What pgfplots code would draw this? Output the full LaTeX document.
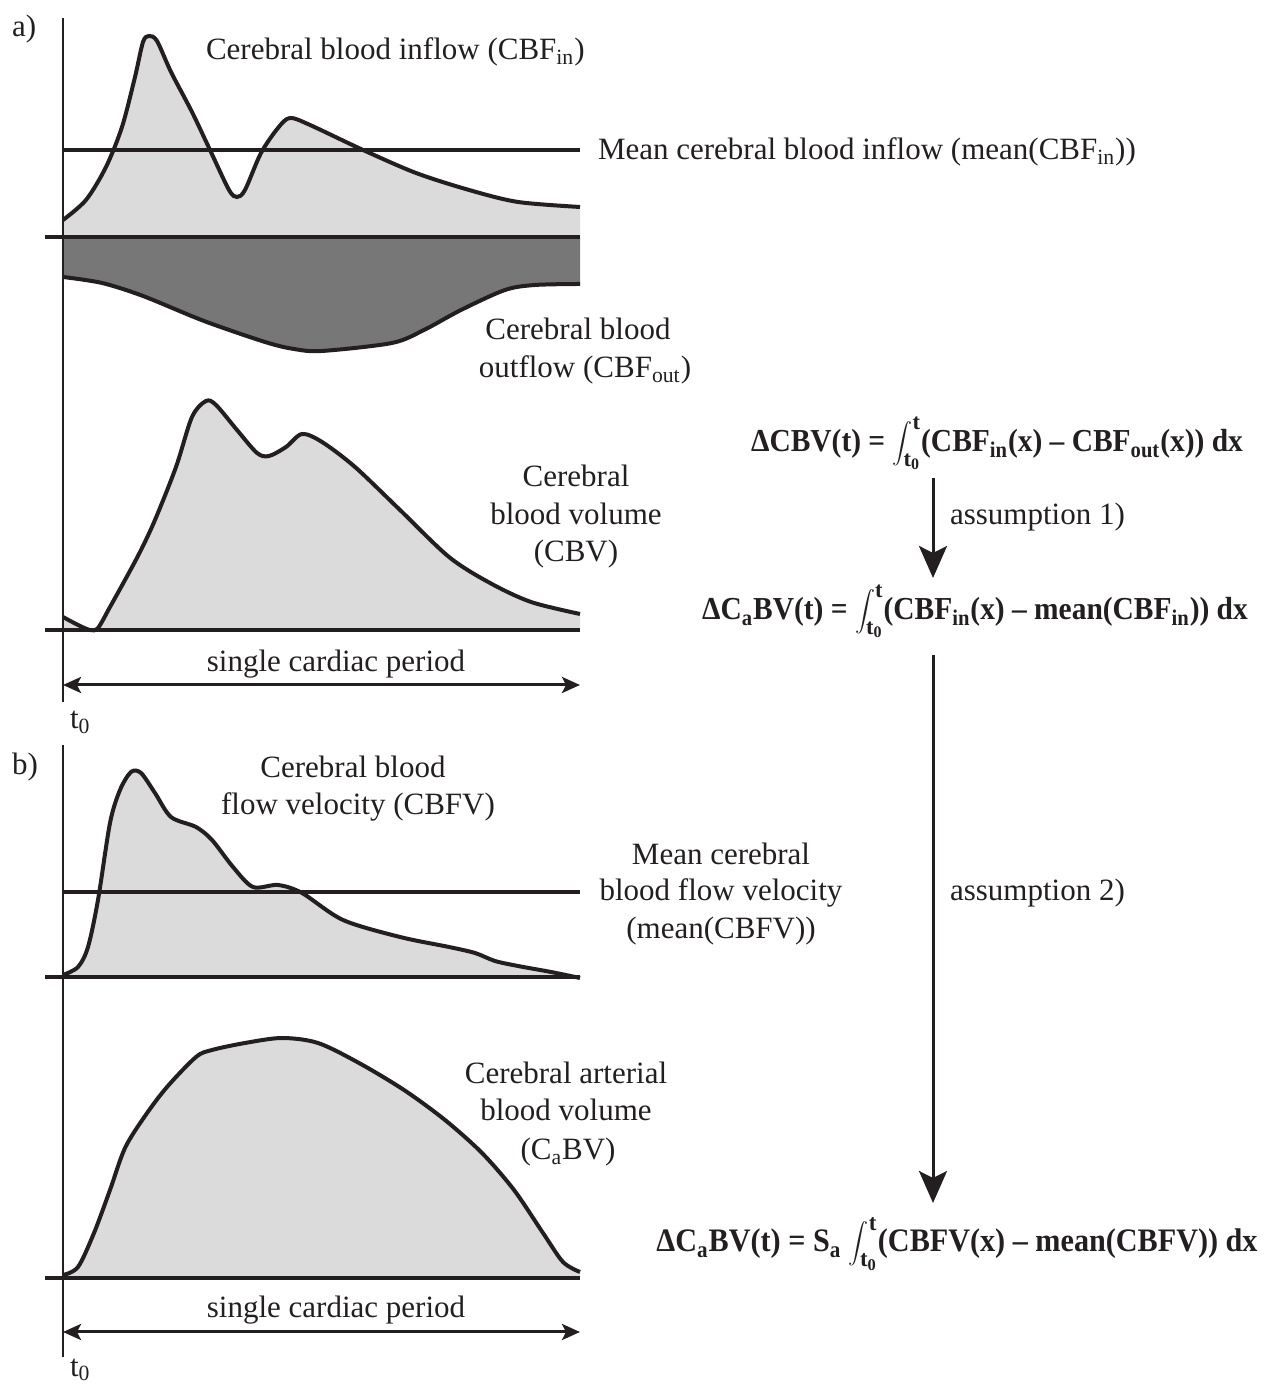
\documentclass[border=0pt]{standalone}
\usepackage{pgfplots}
\pgfplotsset{compat=1.18}
\usepgfplotslibrary{fillbetween}
\usetikzlibrary{arrows.meta}
\usepackage{fontspec}
\setmainfont{Liberation Serif}
\newfontfamily\formfont[FakeStretch=0.92]{Liberation Serif}
\definecolor{ink}{HTML}{231F20}
\definecolor{lightfill}{HTML}{DCDBDC}
\definecolor{darkfill}{HTML}{777777}
\newcommand{\body}{\fontsize{15.5pt}{18.75pt}\selectfont}
\newcommand{\formula}{\formfont\fontsize{16pt}{19pt}\selectfont\bfseries}
\newcommand{\intl}{$\displaystyle\int\nolimits_{\mathbf{t}_{\mathbf{0}}}^{\mathbf{t}}$}
\begin{document}
\begin{tikzpicture}
\pgfplotsset{set layers}
\begin{axis}[
  width=635pt, height=692pt, scale only axis,
  xmin=0, xmax=1270, ymin=0, ymax=1384, y dir=reverse,
  hide axis, clip=false,
  every axis plot/.append style={ink},
  curve/.style={line width=2pt, smooth, tension=0.5},
  hline/.style={line width=1.65pt},
  vline/.style={line width=1.35pt},
]
% ---------- panel a: inflow ----------
\addplot[name path=cbfin, curve] coordinates {
(63,220) (86,200) (106,167) (122,127) (135,77) (143,42) (149,36) (157,41)
(171,72) (192,112) (210,150) (229,190) (237,197) (245,190) (261,153)
(278,128) (290,118) (310,125) (363,150) (416,173) (469,190) (518,202) (580,207)};
\addplot[name path=za, hline] coordinates {(45,237) (580,237)};
\addplot[name path=zaa, draw=none] coordinates {(63,237) (580,237)};
\addplot[lightfill] fill between[of=cbfin and zaa];
% outflow
\addplot[name path=cbfout, curve] coordinates {
(63,277) (102,283) (143,296) (204,321) (265,342) (294,349) (322,351)
(392,343) (424,330) (461,310) (505,290) (535,285) (580,284)};
\addplot[darkfill] fill between[of=cbfout and zaa];
% mean inflow
\addplot[hline] coordinates {(63,150) (580,150)};
% CBV
\addplot[name path=cbv, curve] coordinates {
(63,617) (78,625) (90,630) (98,628) (110,607) (125,580) (140,552) (155,520) (176,467)
(192,417) (206,401) (216,405) (237,430) (257,453) (269,456) (286,447)
(302,434) (322,442) (355,467) (400,510) (449,557) (490,583) (531,602) (580,614)};
\addplot[hline] coordinates {(45,630) (580,630)};
\addplot[name path=zcbv, draw=none] coordinates {(63,630) (580,630)};
\addplot[lightfill] fill between[of=cbv and zcbv];
% vertical axis a
\addplot[vline] coordinates {(63,18) (63,702)};
% ---------- panel b ----------
\addplot[name path=cbfv, curve] coordinates {
(63,975) (78,967) (88,947) (98,900) (110,823) (120,790) (131,772) (141,773)
(155,793) (171,817) (196,827) (212,840) (233,867) (253,887) (278,885)
(302,893) (343,920) (400,937) (449,947) (475,953) (495,961) (518,966) (551,972) (580,978)};
\addplot[hline] coordinates {(45,977) (580,977)};
\addplot[name path=zcbfv, draw=none] coordinates {(63,977) (580,977)};
\addplot[lightfill] fill between[of=cbfv and zcbfv];
\addplot[hline] coordinates {(63,892) (580,892)};
% CaBV
\addplot[name path=cabv, curve] coordinates {
(63,1275) (78,1267) (94,1233) (110,1190) (125,1148) (145,1116) (167,1087) (196,1057)
(212,1050) (245,1043) (282,1038) (318,1043) (359,1063) (404,1090) (445,1120)
(482,1153) (514,1190) (543,1233) (563,1262) (580,1272)};
\addplot[hline] coordinates {(45,1278) (580,1278)};
\addplot[name path=zcabv, draw=none] coordinates {(63,1278) (580,1278)};
\addplot[lightfill] fill between[of=cabv and zcabv];
\addplot[vline] coordinates {(63,745) (63,1357)};
% ---------- arrows ----------
\draw[ink, line width=1.5pt, {Stealth[length=9pt,width=8pt,inset=2pt]}-{Stealth[length=9pt,width=8pt,inset=2pt]}]
  (axis cs:63,685) -- (axis cs:580,685);
\draw[ink, line width=1.5pt, {Stealth[length=9pt,width=8pt,inset=2pt]}-{Stealth[length=9pt,width=8pt,inset=2pt]}]
  (axis cs:63,1332) -- (axis cs:580,1332);
\draw[ink, line width=1.5pt, -{Stealth[length=16pt,width=14pt,inset=3.5pt]}]
  (axis cs:933,478) -- (axis cs:933,578);
\draw[ink, line width=1.5pt, -{Stealth[length=16pt,width=14pt,inset=3.5pt]}]
  (axis cs:933,655) -- (axis cs:933,1203);
% ---------- texts ----------
\begin{scope}[every node/.style={inner sep=0pt, outer sep=0pt, text=ink}]
\node[anchor=base west] at (axis cs:12,37) {\body a)};
\node[anchor=base west] at (axis cs:12,775) {\body b)};
\node[anchor=base west] at (axis cs:206,60) {\body Cerebral blood inflow (CBF\textsubscript{in})};
\node[anchor=base west] at (axis cs:598,160) {\body Mean cerebral blood inflow (mean(CBF\textsubscript{in}))};
\node[anchor=base] at (axis cs:578,340) {\body Cerebral blood};
\node[anchor=base] at (axis cs:585,378) {\body outflow (CBF\textsubscript{out})};
\node[anchor=base] at (axis cs:576,487) {\body Cerebral};
\node[anchor=base] at (axis cs:576,525) {\body blood volume};
\node[anchor=base] at (axis cs:576,562) {\body (CBV)};
\node[anchor=base] at (axis cs:336,672) {\body single cardiac period};
\node[anchor=base west] at (axis cs:70,729) {\body t\textsubscript{0}};
\node[anchor=base] at (axis cs:353,778) {\body Cerebral blood};
\node[anchor=base] at (axis cs:358,815) {\body flow velocity (CBFV)};
\node[anchor=base] at (axis cs:721,865) {\body Mean cerebral};
\node[anchor=base] at (axis cs:721,901) {\body blood flow velocity};
\node[anchor=base] at (axis cs:721,939) {\body (mean(CBFV))};
\node[anchor=base] at (axis cs:566,1084) {\body Cerebral arterial};
\node[anchor=base] at (axis cs:566,1121) {\body blood volume};
\node[anchor=base] at (axis cs:568,1160) {\body (C\textsubscript{a}BV)};
\node[anchor=base] at (axis cs:336,1318) {\body single cardiac period};
\node[anchor=base west] at (axis cs:70,1376) {\body t\textsubscript{0}};
\node[anchor=base west] at (axis cs:950,525) {\body assumption 1)};
\node[anchor=base west] at (axis cs:950,901) {\body assumption 2)};
\node[anchor=base] at (axis cs:997,452) {\formula ΔCBV(t) = \intl(CBF\textsubscript{in}(x) – CBF\textsubscript{out}(x)) dx};
\node[anchor=base] at (axis cs:975,620) {\formula ΔC\textsubscript{a}BV(t) = \intl(CBF\textsubscript{in}(x) – mean(CBF\textsubscript{in})) dx};
\node[anchor=base] at (axis cs:957,1252) {\formula\fontsize{16.4pt}{19pt}\selectfont ΔC\textsubscript{a}BV(t) = S\textsubscript{a} \intl(CBFV(x) – mean(CBFV)) dx};
\end{scope}
\end{axis}
\pgfresetboundingbox
\useasboundingbox (0,0) rectangle (635pt,692pt);
\end{tikzpicture}
\end{document}
